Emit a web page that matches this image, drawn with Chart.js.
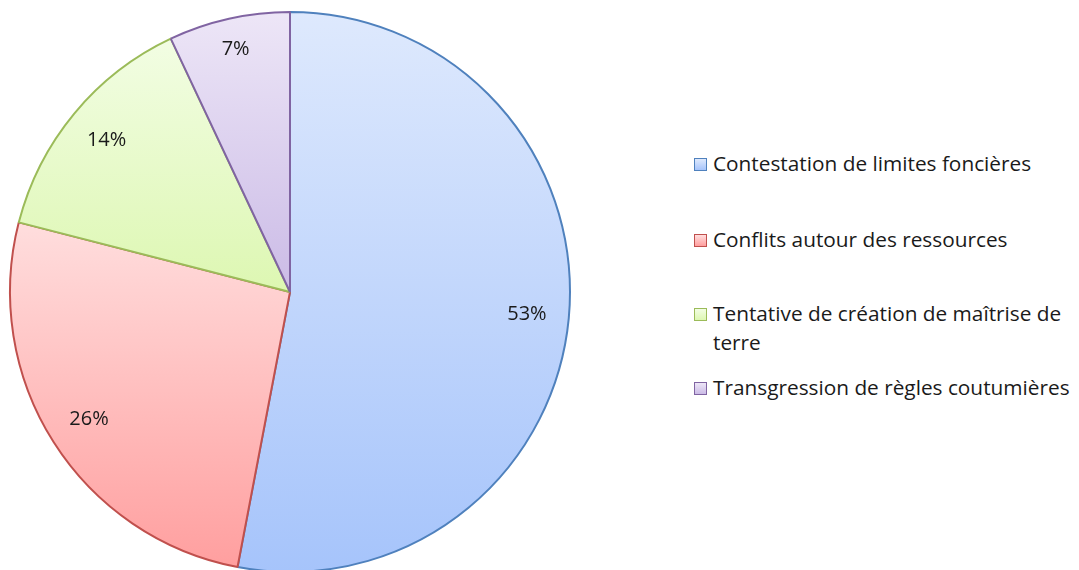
<!DOCTYPE html>
<html>
<head>
<meta charset="utf-8">
<script src="https://cdn.jsdelivr.net/npm/chart.js@4"></script>
<style>
  html, body { margin: 0; padding: 0; background: #fff; overflow: hidden; width: 1079px; height: 570px; }
  #wrap { position: absolute; left: 0; top: 0; width: 600px; height: 600px; }
  #legend { position: absolute; left: 694px; top: 0; width: 385px; font-family: "Open Sans", Lato, sans-serif; font-size: 20.8px; color: #1a1a1a; }
  .item { position: absolute; left: 0; display: flex; align-items: flex-start; }
  .sw { width: 11px; height: 11px; border: 1.5px solid; margin-top: 7px; margin-right: 6px; flex: none; }
  .txt { width: 362px; line-height: 29px; margin-top: -2px; }
</style>
</head>
<body>
<div id="wrap"><canvas id="c" width="600" height="600"></canvas></div>
<div id="legend"></div>
<script>
const categories = [
  "Contestation de limites foncières",
  "Conflits autour des ressources",
  "Tentative de création de maîtrise de terre",
  "Transgression de règles coutumières"
];
const values = [53, 26, 14, 7];
const valueLabels = ["53%", "26%", "14%", "7%"];

const borderColors = ["#4f81bd", "#c0504d", "#9bbb59", "#8064a2"];
// gradient stops: [fraction of pie height, colour]
const gradStops = [
  [[0, "#dee9fd"], [1, "#a6c4fb"]],
  [[0.37, "#ffdede"], [1, "#ff9e9e"]],
  [[0.05, "#f2fde3"], [0.5, "#ddf7b2"]],
  [[0, "#ede6f7"], [0.5, "#cbbbe6"]]
];
const legendTops = [151, 227, 301, 375];
const labelFactor = [0.85, 0.85, 0.85, 0.89];

const PIE_R = 280;

function bg(ctx) {
  const chart = ctx.chart;
  const a = chart.chartArea;
  if (!a) return "#ccc";
  const cy = (a.top + a.bottom) / 2;
  const top = cy - PIE_R, bottom = cy + PIE_R;
  const g = chart.ctx.createLinearGradient(0, top, 0, bottom);
  const stops = gradStops[ctx.dataIndex] || gradStops[0];
  stops.forEach(s => g.addColorStop(s[0], s[1]));
  return g;
}

const labelPlugin = {
  id: "pctLabels",
  afterDatasetsDraw(chart) {
    const meta = chart.getDatasetMeta(0);
    const c = chart.ctx;
    c.save();
    c.font = "20px 'Open Sans', Lato, sans-serif";
    c.fillStyle = "#1a1a1a";
    c.textAlign = "center";
    c.textBaseline = "middle";
    meta.data.forEach((arc, i) => {
      const p = arc.getProps(["x", "y", "startAngle", "endAngle", "outerRadius"], true);
      const mid = (p.startAngle + p.endAngle) / 2;
      const r = p.outerRadius * labelFactor[i];
      c.fillText(valueLabels[i], p.x + Math.cos(mid) * r, p.y + Math.sin(mid) * r);
    });
    c.restore();
  }
};

new Chart(document.getElementById("c"), {
  type: "pie",
  data: {
    labels: categories,
    datasets: [{
      data: values,
      backgroundColor: bg,
      borderColor: borderColors,
      borderWidth: 2,
      borderAlign: "center"
    }]
  },
  options: {
    responsive: false,
    animation: false,
    radius: PIE_R,
    layout: { padding: { left: 10, right: 30, top: 12, bottom: 28 } },
    plugins: { legend: { display: false }, tooltip: { enabled: false } }
  },
  plugins: [labelPlugin]
});

const leg = document.getElementById("legend");
categories.forEach((name, i) => {
  const it = document.createElement("div");
  it.className = "item";
  it.style.top = legendTops[i] + "px";
  const sw = document.createElement("div");
  sw.className = "sw";
  sw.style.borderColor = borderColors[i];
  const st = gradStops[i];
  sw.style.background = "linear-gradient(" + st[0][1] + "," + st[1][1] + ")";
  const t = document.createElement("div");
  t.className = "txt";
  t.textContent = name;
  it.appendChild(sw);
  it.appendChild(t);
  leg.appendChild(it);
});
</script>
</body>
</html>
